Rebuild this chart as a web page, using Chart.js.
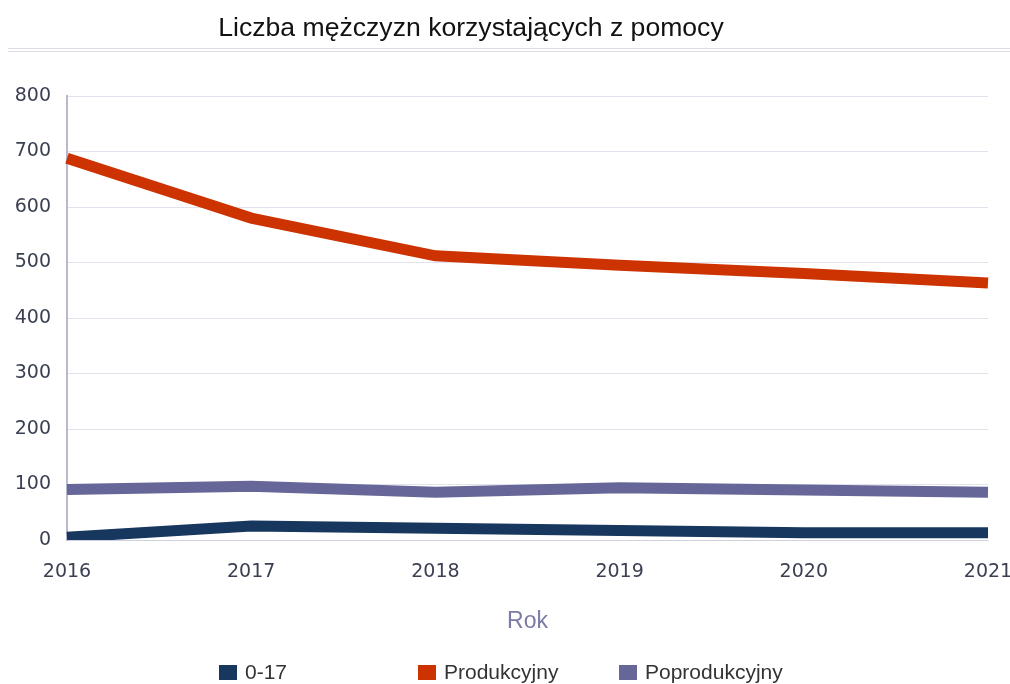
<!DOCTYPE html>
<html>
<head>
<meta charset="utf-8">
<script src="https://cdn.jsdelivr.net/npm/chart.js@4"></script>
<style>
  html, body { margin: 0; padding: 0; background: #fff; }
  #wrap { position: relative; width: 1010px; height: 684px; overflow: hidden; }
  #title {
    position: absolute; left: 0; width: 942px; top: 14px; text-align: center; line-height: 27px;
    font-family: "Liberation Sans", Arial, sans-serif; font-size: 26.6px; color: #111;
  }
  #rule {
    position: absolute; left: 8px; right: 0; top: 48px; height: 2px;
    border-top: 1px solid #dcdce6; border-bottom: 1px solid #dcdce6;
  }
  canvas { position: absolute; left: 0; top: 0; }
  #legend {
    position: absolute; top: 660px; left: 0; width: 1010px; height: 24px;
    font-family: "Liberation Sans", Arial, sans-serif; font-size: 21px; color: #333;
  }
  .item { position: absolute; top: 0; white-space: nowrap; }
  .box { display: inline-block; width: 18px; height: 15px; margin-right: 8px; vertical-align: -1px; }
</style>
</head>
<body>
<div id="wrap">
  <canvas id="chart" width="1010" height="684"></canvas>
  <div id="title">Liczba mężczyzn korzystających z pomocy</div>
  <div id="rule"></div>
  <div id="legend"></div>
</div>
<script>
// data
const years = ['2016', '2017', '2018', '2019', '2020', '2021'];
const seriesNames = ['0-17', 'Produkcyjny', 'Poprodukcyjny'];
const wiek017 = [5, 25, 21, 17, 13, 13];
const produkcyjny = [688, 580, 512, 495, 480, 463];
const poprodukcyjny = [91, 97, 86, 94, 90, 86];
const colors = ['#17375e', '#cc3300', '#666699'];
const legendX = [219, 418, 619];

const values = [wiek017, produkcyjny, poprodukcyjny];

const datasets = seriesNames.map((name, i) => ({
  label: name,
  data: values[i],
  borderColor: colors[i],
  backgroundColor: colors[i],
  borderWidth: 11,
  pointRadius: 0,
  pointHoverRadius: 0,
  tension: 0,
  fill: false
}));

const tickFont = { family: 'DejaVu Sans', size: 19 };

const chart = new Chart(document.getElementById('chart'), {
  type: 'line',
  data: { labels: years, datasets: datasets },
  options: {
    responsive: false,
    animation: false,
    layout: { padding: { top: 96, right: 0, bottom: 44, left: 0 } },
    plugins: {
      legend: { display: false },
      tooltip: { enabled: false },
      title: { display: false }
    },
    scales: {
      x: {
        offset: false,
        grid: { display: false, drawTicks: false },
        border: { display: true, color: '#d0d0de', width: 1 },
        ticks: {
          padding: 21,
          maxRotation: 0,
          color: '#3a3f52',
          font: tickFont
        },
        title: {
          display: true,
          text: 'Rok',
          color: '#7b7ba8',
          padding: { top: 0, bottom: 5 },
          font: { family: 'Liberation Sans', size: 23 }
        },
        afterFit: (scale) => {
          scale.height = 100;
          // keep the last year label hanging off to the right like the original
          scale.paddingRight = 22;
          scale.paddingLeft = 0;
        }
      },
      y: {
        min: 0,
        max: 800,
        grid: { color: '#e2e2ec', drawTicks: false, lineWidth: 1 },
        border: { display: true, color: '#b8b8cf', width: 2 },
        ticks: {
          stepSize: 100,
          padding: 16,
          color: '#3a3f52',
          font: tickFont
        },
        afterFit: (scale) => { scale.width = 67; }
      }
    }
  }
});

// legend below the chart
const legend = document.getElementById('legend');
seriesNames.forEach((name, i) => {
  const item = document.createElement('div');
  item.className = 'item';
  item.style.left = legendX[i] + 'px';
  const box = document.createElement('span');
  box.className = 'box';
  box.style.background = colors[i];
  item.appendChild(box);
  item.appendChild(document.createTextNode(name));
  legend.appendChild(item);
});
</script>
</body>
</html>
